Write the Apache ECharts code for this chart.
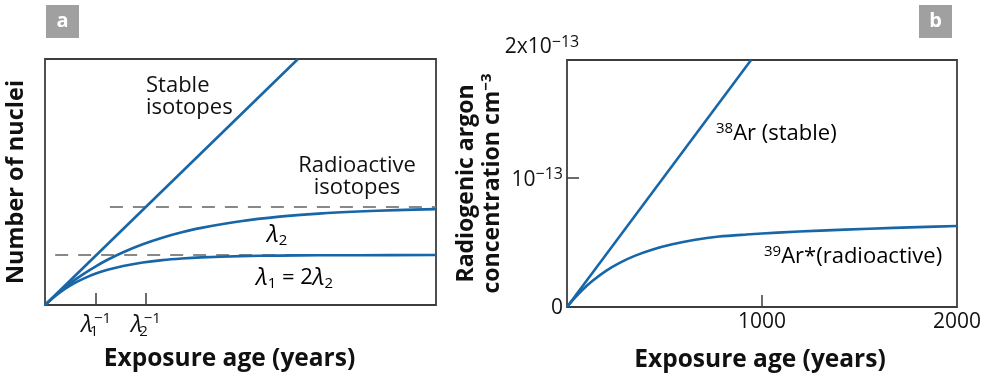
<!DOCTYPE html>
<html>
<head>
<meta charset="utf-8">
<script src="https://cdn.jsdelivr.net/npm/echarts@6/dist/echarts.min.js"></script>
<style>
html,body{margin:0;padding:0;background:#fff;}
#chart{width:987px;height:378px;}
</style>
</head>
<body>
<div id="chart"></div>
<script>
// ---------- Panel a (arbitrary units: x 0-100, y 0-100) ----------
var xTicksA = [13.1, 25.8];            // lambda1^-1, lambda2^-1
var xTickSubsA = ['1', '2'];
var stableA = [[0, 0], [64.7, 100]];
var radioA2 = [[0,0],[2,2.97],[4,5.72],[6,8.26],[8,10.61],[10,12.79],[13,15.75],[16,18.39],[20,21.46],[25,24.7],[30,27.36],[35,29.55],[40,31.35],[50,34.07],[60,35.91],[70,37.16],[80,38.01],[90,38.58],[100,38.98]];
var radioA1 = [[0,0],[2,2.87],[4,5.34],[6,7.46],[8,9.28],[10,10.84],[13,12.77],[16,14.31],[20,15.89],[25,17.29],[30,18.25],[35,18.9],[40,19.34],[50,19.85],[60,20.09],[70,20.2],[80,20.25],[100,20.3]];
var dashUpperA = [[16.6, 39.8], [100, 39.8]];
var dashLowerA = [[2.6, 20.3], [100, 20.3]];

// ---------- Panel b (x in years, y in units of 1e-13 cm^-3) ----------
var xTicksB = [1000];
var xLabelsB = [1000, 2000];
var yTicksB = [1];
var yLabelsB = [0, 1];
var stableB = [[0, 0], [944, 1.915]];
var radioB = [[0,0],[40,0.071],[80,0.134],[133,0.205],[200,0.28],[270,0.342],[350,0.398],[440,0.446],[540,0.486],[650,0.519],[780,0.546],[920,0.562],[1080,0.577],[1300,0.592],[1550,0.607],[1800,0.619],[2000,0.628]];

var FONT = "'Open Sans', sans-serif";
var BLUE = '#1766a8';
var DARK = '#3d3d3d';
var TXT = '#111';

var lamRich = {
  l: {fontSize: 24, fontStyle: 'italic', fontFamily: FONT, color: TXT, lineHeight: 28, verticalAlign: 'middle'},
  sb: {fontSize: 15, fontFamily: FONT, color: TXT, lineHeight: 14, verticalAlign: 'bottom', width: 0, padding: [0, 0, 0, 1]},
  sp: {fontSize: 15, fontFamily: FONT, color: TXT, lineHeight: 14, verticalAlign: 'top'}
};
var annRich = {
  l: {fontSize: 24, fontStyle: 'italic', fontFamily: FONT, color: TXT, lineHeight: 26, verticalAlign: 'middle'},
  sb: {fontSize: 15, fontFamily: FONT, color: TXT, lineHeight: 14, verticalAlign: 'bottom'},
  t: {fontSize: 22, fontFamily: FONT, color: TXT, lineHeight: 26, verticalAlign: 'middle'},
  sp: {fontSize: 15, fontFamily: FONT, color: TXT, lineHeight: 14, verticalAlign: 'top'}
};

var chart = echarts.init(document.getElementById('chart'), null, {renderer: 'canvas'});
var gridStyle = {show: true, borderColor: DARK, borderWidth: 1.8, backgroundColor: 'transparent', containLabel: false, outerBoundsMode: 'none'};
function titleStyle(pad) {
  return {fontFamily: FONT, fontWeight: 'bold', fontSize: 24.5, color: TXT, padding: pad};
}

chart.setOption({
  animation: false,
  grid: [
    Object.assign({left: 45, top: 59, width: 391, height: 246}, gridStyle),
    Object.assign({left: 567, top: 60, width: 390, height: 247}, gridStyle)
  ],
  xAxis: [
    {
      type: 'value', gridIndex: 0, min: 0, max: 100,
      splitLine: {show: false}, axisLine: {show: false},
      axisTick: {show: true, inside: true, length: 12, customValues: xTicksA, lineStyle: {color: DARK, width: 1.5}},
      axisLabel: {
        customValues: xTicksA, margin: 6,
        formatter: function (v) {
          var i = xTicksA.indexOf(v);
          return '{l|λ}{sb|' + xTickSubsA[i] + '}{sp|−1}';
        },
        rich: lamRich
      },
      name: 'Exposure age (years)', nameLocation: 'middle', nameGap: 42, nameTextStyle: titleStyle([0, 22, 0, 0])
    },
    {
      type: 'value', gridIndex: 1, min: 0, max: 2000,
      splitLine: {show: false}, axisLine: {show: false},
      axisTick: {show: true, inside: true, length: 12, customValues: xTicksB, lineStyle: {color: DARK, width: 1.5}},
      axisLabel: {customValues: xLabelsB, margin: 5, fontFamily: FONT, fontSize: 21, color: TXT,
        formatter: function (v) { return String(v); }},
      name: 'Exposure age (years)', nameLocation: 'middle', nameGap: 41, nameTextStyle: titleStyle([0, 4, 0, 0])
    }
  ],
  yAxis: [
    {
      type: 'value', gridIndex: 0, min: 0, max: 100,
      splitLine: {show: false}, axisLine: {show: false}, axisTick: {show: false}, axisLabel: {show: false},
      name: 'Number of nuclei', nameLocation: 'middle', nameRotate: 90, nameGap: 17,
      nameTextStyle: {fontFamily: FONT, fontWeight: 'bold', fontSize: 23.5, color: TXT, padding: [0, 0, 0, 0]}
    },
    {
      type: 'value', gridIndex: 1, min: 0, max: 1.915, position: 'left',
      splitLine: {show: false}, axisLine: {show: false},
      axisTick: {show: true, inside: true, length: 12, customValues: yTicksB, lineStyle: {color: DARK, width: 1.5}},
      axisLabel: {
        customValues: yLabelsB, margin: 4,
        formatter: function (v) { return v === 0 ? '{n|0}' : '{n|10}{sp|−13}'; },
        rich: {
          n: {fontFamily: FONT, fontSize: 21, color: TXT, lineHeight: 24, verticalAlign: 'bottom'},
          sp: {fontFamily: FONT, fontSize: 16, color: TXT, lineHeight: 24, verticalAlign: 'top'}
        }
      },
      name: '{n|2x10}{sp|−13}', nameLocation: 'end', nameGap: 2,
      nameTextStyle: {
        padding: [0, 50, 0, 0],
        rich: {
          n: {fontFamily: FONT, fontSize: 21, color: TXT, lineHeight: 24, verticalAlign: 'bottom'},
          sp: {fontFamily: FONT, fontSize: 16, color: TXT, lineHeight: 24, verticalAlign: 'top'}
        }
      }
    },
    {
      type: 'value', gridIndex: 1, min: 0, max: 1.915, position: 'left', offset: 0,
      splitLine: {show: false}, axisLine: {show: false}, axisTick: {show: false}, axisLabel: {show: false},
      name: 'Radiogenic argon\nconcentration cm{sp|−3}', nameLocation: 'middle', nameRotate: 90, nameGap: 62,
      nameTextStyle: {
        fontFamily: FONT, fontWeight: 'bold', fontSize: 23, color: TXT, lineHeight: 26,
        rich: {sp: {fontFamily: FONT, fontWeight: 'bold', fontSize: 15, color: TXT, verticalAlign: 'top', lineHeight: 26}}
      }
    }
  ],
  series: [
    {type: 'line', xAxisIndex: 0, yAxisIndex: 0, data: dashUpperA, showSymbol: false, lineStyle: {color: '#888', width: 2, type: [13, 10]}, z: 1},
    {type: 'line', xAxisIndex: 0, yAxisIndex: 0, data: dashLowerA, showSymbol: false, lineStyle: {color: '#888', width: 2, type: [13, 10]}, z: 1},
    {type: 'line', xAxisIndex: 0, yAxisIndex: 0, data: stableA, showSymbol: false, lineStyle: {color: BLUE, width: 2.6}, z: 2},
    {type: 'line', xAxisIndex: 0, yAxisIndex: 0, data: radioA2, showSymbol: false, smooth: 0.3, lineStyle: {color: BLUE, width: 2.6}, z: 2},
    {type: 'line', xAxisIndex: 0, yAxisIndex: 0, data: radioA1, showSymbol: false, smooth: 0.3, lineStyle: {color: BLUE, width: 2.6}, z: 2},
    {type: 'line', xAxisIndex: 1, yAxisIndex: 1, data: stableB, showSymbol: false, lineStyle: {color: BLUE, width: 2.6}},
    {type: 'line', xAxisIndex: 1, yAxisIndex: 1, data: radioB, showSymbol: false, smooth: 0.3, lineStyle: {color: BLUE, width: 2.6}}
  ],
  graphic: [
    {type: 'rect', left: 46, top: 5, shape: {width: 33, height: 33}, style: {fill: '#a0a0a0'}},
    {type: 'text', x: 62.5, y: 21.5, style: {text: 'a', fill: '#fff', font: 'bold 20px ' + FONT, textAlign: 'center', textVerticalAlign: 'middle'}},
    {type: 'rect', left: 919, top: 5, shape: {width: 33, height: 33}, style: {fill: '#a0a0a0'}},
    {type: 'text', x: 935.5, y: 21.5, style: {text: 'b', fill: '#fff', font: 'bold 20px ' + FONT, textAlign: 'center', textVerticalAlign: 'middle'}},
    {type: 'text', x: 146, y: 75, style: {text: 'Stable\nisotopes', fill: TXT, font: '22px ' + FONT, lineHeight: 22, textAlign: 'left', textVerticalAlign: 'top'}},
    {type: 'text', x: 357, y: 155, style: {text: 'Radioactive\nisotopes', fill: TXT, font: '22px ' + FONT, lineHeight: 22, textAlign: 'center', textVerticalAlign: 'top'}},
    {type: 'text', x: 267, y: 222, style: {text: '{l|λ}{sb|2}', rich: annRich, textAlign: 'left', textVerticalAlign: 'top'}},
    {type: 'text', x: 256, y: 265, style: {text: '{l|λ}{sb|1}{t| = 2}{l|λ}{sb|2}', rich: annRich, textAlign: 'left', textVerticalAlign: 'top'}},
    {type: 'text', x: 716, y: 121, style: {text: '{sp|38}{t|Ar (stable)}', rich: annRich, textAlign: 'left', textVerticalAlign: 'top'}},
    {type: 'text', x: 764, y: 244, style: {text: '{sp|39}{t|Ar*(radioactive)}', rich: annRich, textAlign: 'left', textVerticalAlign: 'top'}}
  ]
});
</script>
</body>
</html>
